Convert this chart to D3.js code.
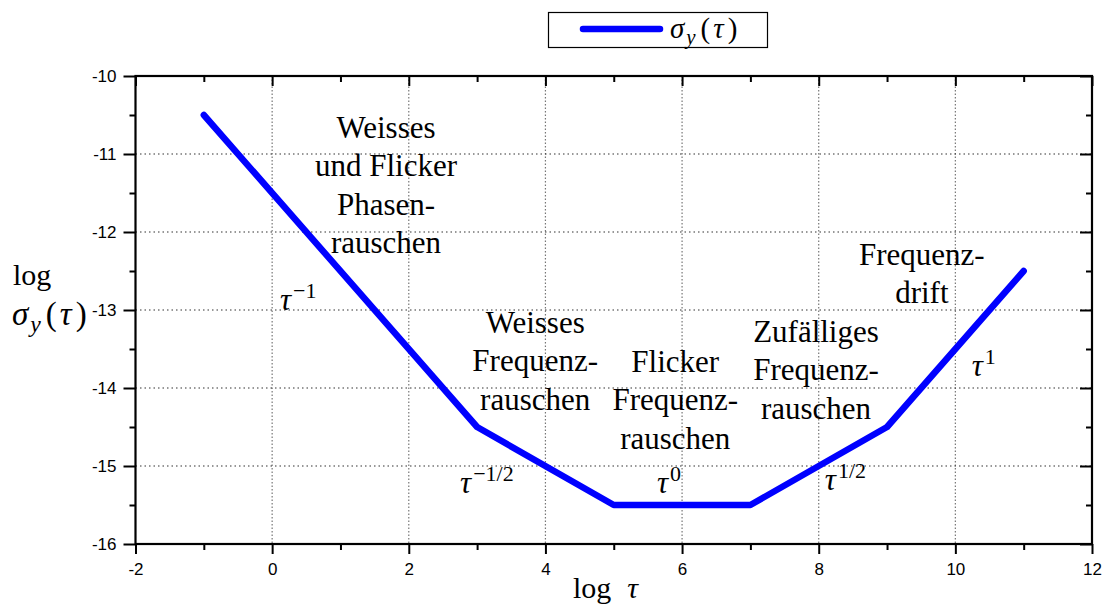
<!DOCTYPE html>
<html>
<head>
<meta charset="utf-8">
<script src="https://cdn.jsdelivr.net/npm/d3@7"></script>
<style>
  html, body { margin: 0; padding: 0; background: #fff; }
  svg { display: block; }
  .tick text { font-family: "Liberation Sans", Arial, sans-serif; }
  .serif { font-family: "Liberation Serif", "Times New Roman", serif; fill: #000; }
</style>
</head>
<body>
<svg id="chart" width="1107" height="608"></svg>
<script>
// Allan deviation slopes: log sigma_y(tau) against log tau
const logTau = [-1, 3, 5, 7, 9, 11];
const logSigma = [-10.5, -14.5, -15.5, -15.5, -14.5, -12.5];

const xTickValues = [-2, 0, 2, 4, 6, 8, 10, 12];
const xMinorValues = [-1, 1, 3, 5, 7, 9, 11];
const yTickValues = [-16, -15, -14, -13, -12, -11, -10];
const yMinorValues = [-15.5, -14.5, -13.5, -12.5, -11.5, -10.5];

// Noise regime labels (lines of text, anchored at a point in data units)
const regionLines = [
  ["Weisses", "und Flicker", "Phasen-", "rauschen"],
  ["Weisses", "Frequenz-", "rauschen"],
  ["Flicker", "Frequenz-", "rauschen"],
  ["Zufälliges", "Frequenz-", "rauschen"],
  ["Frequenz-", "drift"]
];
const regionX = [1.667, 3.85, 5.9, 7.96, 9.51];
const regionY = [-10.795, -13.295, -13.795, -13.41, -12.42];

// Slope exponents written next to each segment
const slopeExp = ["\u22121", "\u22121/2", "0", "1/2", "1"];
const slopeX = [0.115, 2.75, 5.633, 8.09, 10.24];
const slopeY = [-13.0, -15.35, -15.35, -15.31, -13.85];

const svg = d3.select("#chart");
const plotL = 135.5, plotR = 1092, plotT = 76, plotB = 544;

const x = d3.scaleLinear().domain([-2, 12]).range([plotL, plotR]);
const y = d3.scaleLinear().domain([-16, -10]).range([plotB, plotT]);

// Grid
const grid = svg.append("g");
grid.selectAll("line.gx")
  .data(xTickValues.filter(v => v > -2 && v < 12))
  .join("line")
  .attr("x1", d => x(d)).attr("x2", d => x(d))
  .attr("y1", plotT).attr("y2", plotB)
  .attr("stroke", "#777").attr("stroke-width", 1.2)
  .attr("stroke-dasharray", "1.5,2");
grid.selectAll("line.gy")
  .data(yTickValues.filter(v => v > -16 && v < -10))
  .join("line")
  .attr("x1", plotL).attr("x2", plotR)
  .attr("y1", d => y(d)).attr("y2", d => y(d))
  .attr("stroke", "#333").attr("stroke-width", 1.2)
  .attr("stroke-dasharray", "1.5,3");

// Axes
function styleAxis(g) {
  g.select(".domain").remove();
  g.selectAll(".tick line").attr("stroke", "#000").attr("stroke-width", 2);
}
const fmt = d => d3.format("d")(d).replace("\u2212", "-");

svg.append("g").attr("transform", `translate(0,${plotB})`)
  .call(d3.axisBottom(x).tickValues(xTickValues).tickSize(10).tickPadding(9).tickFormat(fmt))
  .call(styleAxis)
  .call(g => g.selectAll("text").attr("font-size", 17).attr("fill", "#000"));
svg.append("g").attr("transform", `translate(0,${plotB})`)
  .call(d3.axisBottom(x).tickValues(xMinorValues).tickSize(6).tickFormat(""))
  .call(styleAxis);

svg.append("g").attr("transform", `translate(${plotL},0)`)
  .call(d3.axisLeft(y).tickValues(yTickValues).tickSize(12).tickPadding(7).tickFormat(fmt))
  .call(styleAxis)
  .call(g => g.selectAll("text").attr("font-size", 17).attr("fill", "#000"));
svg.append("g").attr("transform", `translate(${plotL},0)`)
  .call(d3.axisLeft(y).tickValues(yMinorValues).tickSize(6).tickFormat(""))
  .call(styleAxis);

// Mirrored ticks on top and right, pointing inward
svg.append("g").attr("transform", `translate(0,${plotT})`)
  .call(d3.axisBottom(x).tickValues(xTickValues).tickSize(10).tickFormat(""))
  .call(styleAxis);
svg.append("g").attr("transform", `translate(0,${plotT})`)
  .call(d3.axisBottom(x).tickValues(xMinorValues).tickSize(6).tickFormat(""))
  .call(styleAxis);
svg.append("g").attr("transform", `translate(${plotR},0)`)
  .call(d3.axisLeft(y).tickValues(yTickValues).tickSize(12).tickFormat(""))
  .call(styleAxis);
svg.append("g").attr("transform", `translate(${plotR},0)`)
  .call(d3.axisLeft(y).tickValues(yMinorValues).tickSize(6).tickFormat(""))
  .call(styleAxis);

// Frame
svg.append("rect")
  .attr("x", plotL).attr("y", plotT)
  .attr("width", plotR - plotL).attr("height", plotB - plotT)
  .attr("fill", "none").attr("stroke", "#000").attr("stroke-width", 2.2);

// Curve
const line = d3.line().x((d, i) => x(logTau[i])).y(d => y(d));
svg.append("path")
  .datum(logSigma)
  .attr("d", line)
  .attr("fill", "none")
  .attr("stroke", "#0000ff")
  .attr("stroke-width", 6.5)
  .attr("stroke-linecap", "round")
  .attr("stroke-linejoin", "round");

// Regime labels
regionLines.forEach((lines, i) => {
  const t = svg.append("text").attr("class", "serif")
    .attr("font-size", 31).attr("text-anchor", "middle");
  lines.forEach((s, j) => {
    t.append("tspan")
      .attr("x", x(regionX[i]))
      .attr("y", y(regionY[i]) + j * 38.3)
      .text(s);
  });
});

// Slope labels tau^n
slopeExp.forEach((e, i) => {
  const t = svg.append("text").attr("class", "serif")
    .attr("x", x(slopeX[i])).attr("y", y(slopeY[i]));
  t.append("tspan").attr("font-size", 31).attr("font-style", "italic").text("\u03c4");
  t.append("tspan").attr("font-size", 22).attr("dx", 2).attr("dy", -12).text(e);
});

// sigma_y(tau) with generous math spacing
function sigmaLabel(sel, size) {
  sel.append("tspan").attr("font-style", "italic").text("\u03c3");
  sel.append("tspan").attr("font-style", "italic").attr("font-size", size * 0.72)
    .attr("dx", 2).attr("dy", size * 0.22).text("y");
  sel.append("tspan").attr("dy", -size * 0.22).attr("dx", 5).text("(");
  sel.append("tspan").attr("font-style", "italic").attr("dx", 3).text("\u03c4");
  sel.append("tspan").attr("dx", 4).text(")");
}

// Axis titles
const xt = svg.append("text").attr("class", "serif")
  .attr("x", 573).attr("y", 598).attr("font-size", 30);
xt.append("tspan").text("log");
xt.append("tspan").attr("font-style", "italic").attr("dx", 16).text("\u03c4");

svg.append("text").attr("class", "serif")
  .attr("x", 13).attr("y", 285).attr("font-size", 30).text("log");
const yt = svg.append("text").attr("class", "serif")
  .attr("x", 12).attr("y", 325).attr("font-size", 33);
sigmaLabel(yt, 33);

// Legend
const lg = svg.append("g");
lg.append("rect")
  .attr("x", 548.5).attr("y", 12.5).attr("width", 219).attr("height", 35)
  .attr("fill", "#fff").attr("stroke", "#000").attr("stroke-width", 1.2);
lg.append("line")
  .attr("x1", 583).attr("x2", 660).attr("y1", 29).attr("y2", 29)
  .attr("stroke", "#0000ff").attr("stroke-width", 6.5).attr("stroke-linecap", "round");
const lt = lg.append("text").attr("class", "serif")
  .attr("x", 670).attr("y", 38).attr("font-size", 29);
sigmaLabel(lt, 29);
</script>
</body>
</html>
